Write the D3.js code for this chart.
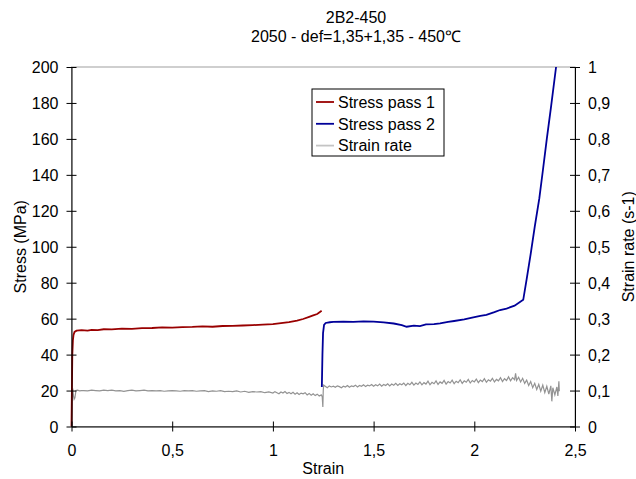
<!DOCTYPE html>
<html>
<head>
<meta charset="utf-8">
<script src="https://cdn.jsdelivr.net/npm/d3@7"></script>
<style>
  body { margin: 0; background: #fff; }
  svg { display: block; font-family: "Liberation Sans", Arial, sans-serif; }
  .axis path, .axis line { stroke: #000; }
  .axis text { font-size: 16px; fill: #000; font-family: "Liberation Sans", Arial, sans-serif; }
</style>
</head>
<body>
<svg id="chart" width="636" height="479"></svg>
<script>
const titleLines = ['2B2-450', '2050 - def=1,35+1,35 - 450\u2103']
const seriesNames = ['Stress pass 1', 'Stress pass 2', 'Strain rate']
const strainTicks = [0, 0.5, 1, 1.5, 2, 2.5]
const stressTicks = [0, 20, 40, 60, 80, 100, 120, 140, 160, 180, 200]
const rateTicks = [0, 0.1, 0.2, 0.3, 0.4, 0.5, 0.6, 0.7, 0.8, 0.9, 1]

// [strain, stress MPa]
const stressPass1 = [
  [0, 0], [0.002, 20], [0.004, 40], [0.007, 48], [0.01, 51], [0.015, 52.6], [0.025, 53.3],
  [0.05, 53.6], [0.08, 53.3], [0.1, 53.8], [0.13, 53.6], [0.16, 54.1], [0.2, 54.0],
  [0.25, 54.4], [0.3, 54.3], [0.35, 54.7], [0.4, 54.8], [0.45, 55.1], [0.5, 55.0],
  [0.55, 55.3], [0.6, 55.4], [0.65, 55.7], [0.7, 55.5], [0.75, 55.9], [0.8, 56.0],
  [0.85, 56.2], [0.9, 56.4], [0.95, 56.7], [1.0, 56.9], [1.04, 57.5], [1.08, 58.1],
  [1.12, 58.9], [1.15, 59.8], [1.18, 61.0], [1.2, 61.8], [1.22, 62.6], [1.242, 64.4]
]
const stressPass2 = [
  [1.243, 22], [1.246, 40], [1.249, 52], [1.254, 56.5], [1.262, 57.6], [1.283, 58.0],
  [1.3, 58.2], [1.35, 58.4], [1.4, 58.2], [1.45, 58.5], [1.5, 58.3], [1.55, 57.9],
  [1.6, 57.3], [1.64, 56.4], [1.664, 55.5], [1.7, 56.1], [1.73, 55.8], [1.76, 56.8],
  [1.8, 56.9], [1.83, 57.4], [1.87, 58.2], [1.9, 58.7], [1.95, 59.6], [1.995, 60.7],
  [2.03, 61.6], [2.06, 62.1], [2.1, 63.6], [2.128, 64.8], [2.16, 65.6], [2.2, 67.2],
  [2.243, 70.5], [2.26, 82], [2.28, 96], [2.3, 111], [2.323, 127], [2.34, 142],
  [2.36, 160], [2.38, 177], [2.406, 200]
]
// [strain, strain rate s-1]
const strainRate = [
  [0, 0], [0.002, 0.06], [0.004, 0.1], [0.007, 0.102], [0.01, 0.085], [0.013, 0.076],
  [0.017, 0.08], [0.022, 0.1], [0.03, 0.101], [0.04, 0.099], [0.05, 0.1],
  [0.06, 0.1], [0.08, 0.099], [0.1, 0.101], [0.12, 0.1], [0.14, 0.099], [0.16, 0.101],
  [0.18, 0.1], [0.2, 0.101], [0.22, 0.099], [0.24, 0.1], [0.26, 0.098], [0.28, 0.1],
  [0.3, 0.101], [0.32, 0.099], [0.34, 0.1], [0.36, 0.101], [0.38, 0.099], [0.4, 0.1],
  [0.42, 0.099], [0.44, 0.1], [0.46, 0.098], [0.48, 0.099], [0.5, 0.1], [0.52, 0.099],
  [0.54, 0.098], [0.56, 0.1], [0.58, 0.099], [0.6, 0.1], [0.62, 0.098], [0.64, 0.099],
  [0.66, 0.1], [0.68, 0.097], [0.7, 0.099], [0.72, 0.098], [0.74, 0.1], [0.76, 0.097],
  [0.78, 0.098], [0.8, 0.097], [0.82, 0.099], [0.84, 0.096], [0.86, 0.098], [0.88, 0.095],
  [0.9, 0.097], [0.92, 0.096], [0.94, 0.097], [0.96, 0.094], [0.98, 0.096], [1.0, 0.093],
  [1.01, 0.097], [1.02, 0.094], [1.03, 0.091], [1.04, 0.096], [1.05, 0.093], [1.06, 0.097],
  [1.07, 0.092], [1.08, 0.095], [1.09, 0.091], [1.1, 0.095], [1.11, 0.09], [1.12, 0.094],
  [1.13, 0.089], [1.14, 0.093], [1.15, 0.091], [1.16, 0.094], [1.17, 0.088], [1.18, 0.092],
  [1.19, 0.087], [1.2, 0.091], [1.21, 0.086], [1.22, 0.09], [1.23, 0.085], [1.24, 0.088],
  [1.245, 0.083], [1.248, 0.054], [1.25, 0.1], [1.252, 0.115],
  [1.26, 0.112], [1.27, 0.108], [1.28, 0.113], [1.29, 0.11], [1.3, 0.112], [1.31, 0.109],
  [1.32, 0.113], [1.33, 0.111], [1.34, 0.108], [1.35, 0.112], [1.36, 0.11], [1.37, 0.114],
  [1.38, 0.109], [1.39, 0.113], [1.4, 0.111], [1.41, 0.115], [1.42, 0.11], [1.43, 0.114],
  [1.44, 0.112], [1.45, 0.116], [1.46, 0.111], [1.47, 0.115], [1.48, 0.113], [1.49, 0.117],
  [1.5, 0.112], [1.51, 0.116], [1.52, 0.113], [1.53, 0.118], [1.54, 0.112], [1.55, 0.117],
  [1.56, 0.114], [1.57, 0.119], [1.58, 0.113], [1.59, 0.118], [1.6, 0.115], [1.61, 0.12],
  [1.62, 0.114], [1.63, 0.119], [1.64, 0.116], [1.65, 0.121], [1.66, 0.114], [1.67, 0.12],
  [1.68, 0.116], [1.69, 0.123], [1.7, 0.115], [1.71, 0.121], [1.72, 0.117], [1.73, 0.124],
  [1.74, 0.116], [1.75, 0.122], [1.76, 0.118], [1.77, 0.126], [1.78, 0.116], [1.79, 0.123],
  [1.8, 0.119], [1.81, 0.127], [1.82, 0.117], [1.83, 0.124], [1.84, 0.12], [1.85, 0.128],
  [1.86, 0.118], [1.87, 0.125], [1.88, 0.121], [1.89, 0.129], [1.9, 0.119], [1.91, 0.126],
  [1.92, 0.122], [1.93, 0.13], [1.94, 0.12], [1.95, 0.127], [1.96, 0.123], [1.97, 0.131],
  [1.98, 0.121], [1.99, 0.128], [2.0, 0.124], [2.01, 0.132], [2.02, 0.122], [2.03, 0.129],
  [2.04, 0.125], [2.05, 0.133], [2.06, 0.123], [2.07, 0.13], [2.08, 0.126], [2.09, 0.134],
  [2.1, 0.124], [2.11, 0.131], [2.12, 0.127], [2.13, 0.136], [2.14, 0.125], [2.15, 0.133],
  [2.16, 0.128], [2.17, 0.138], [2.18, 0.127], [2.19, 0.136], [2.2, 0.13], [2.205, 0.148],
  [2.21, 0.128], [2.22, 0.137], [2.23, 0.124], [2.24, 0.134], [2.25, 0.12], [2.26, 0.129],
  [2.27, 0.114], [2.28, 0.125], [2.29, 0.108], [2.3, 0.12], [2.31, 0.103], [2.32, 0.117],
  [2.33, 0.098], [2.34, 0.115], [2.35, 0.094], [2.36, 0.112], [2.37, 0.09], [2.38, 0.113],
  [2.385, 0.07], [2.39, 0.108], [2.4, 0.088], [2.41, 0.11], [2.415, 0.085], [2.42, 0.126],
  [2.422, 0.098]
]

const colors = ['#990000', '#000099', '#939393']

const PLOT = { left: 71.5, right: 575, top: 67, bottom: 426.5 }
const comma = d => String(d).replace('.', ',')

const svg = d3.select('#chart')

const x = d3.scaleLinear().domain([0, 2.5]).range([PLOT.left, PLOT.right])
const yStress = d3.scaleLinear().domain([0, 200]).range([PLOT.bottom, PLOT.top])
const yRate = d3.scaleLinear().domain([0, 1]).range([PLOT.bottom, PLOT.top])

// plot border (only the top edge stays visible)
svg.append('rect')
  .attr('x', PLOT.left).attr('y', PLOT.top)
  .attr('width', PLOT.right - PLOT.left).attr('height', PLOT.bottom - PLOT.top)
  .attr('fill', 'none').attr('stroke', '#a0a0a0').attr('stroke-width', 1)

// series
const stressLine = d3.line().x(d => x(d[0])).y(d => yStress(d[1]))
const rateLine = d3.line().x(d => x(d[0])).y(d => yRate(d[1]))

svg.append('path').datum(strainRate).attr('d', rateLine)
  .attr('fill', 'none').attr('stroke', colors[2]).attr('stroke-width', 1.2)
svg.append('path').datum(stressPass1).attr('d', stressLine)
  .attr('fill', 'none').attr('stroke', colors[0]).attr('stroke-width', 1.8)
svg.append('path').datum(stressPass2).attr('d', stressLine)
  .attr('fill', 'none').attr('stroke', colors[1]).attr('stroke-width', 1.8)

// axes, ticks crossing the axis line
const gx = svg.append('g').attr('class', 'axis')
  .attr('transform', `translate(0,${PLOT.bottom})`)
  .call(d3.axisBottom(x).tickValues(strainTicks).tickFormat(comma).tickSize(5).tickSizeOuter(0))
gx.selectAll('.tick line').attr('y1', -5)
gx.selectAll('.tick text').attr('dy', null).attr('y', 29)

const gy = svg.append('g').attr('class', 'axis')
  .attr('transform', `translate(${PLOT.left},0)`)
  .call(d3.axisLeft(yStress).tickValues(stressTicks).tickSize(5).tickSizeOuter(0))
gy.selectAll('.tick line').attr('x1', 5)
gy.selectAll('.tick text').attr('x', -13).attr('dy', '0.35em')

const gr = svg.append('g').attr('class', 'axis')
  .attr('transform', `translate(${PLOT.right},0)`)
  .call(d3.axisRight(yRate).tickValues(rateTicks).tickFormat(comma).tickSize(5).tickSizeOuter(0))
gr.selectAll('.tick line').attr('x1', -5)
gr.selectAll('.tick text').attr('x', 13).attr('dy', '0.35em')

// axis titles
svg.append('text').text('Strain')
  .attr('x', (PLOT.left + PLOT.right) / 2).attr('y', 474)
  .attr('text-anchor', 'middle').style('font-size', '16px')
svg.append('text').text('Stress (MPa)')
  .attr('transform', `translate(26,${(PLOT.top + PLOT.bottom) / 2}) rotate(-90)`)
  .attr('text-anchor', 'middle').style('font-size', '16px')
svg.append('text').text('Strain rate (s-1)')
  .attr('transform', `translate(634,${(PLOT.top + PLOT.bottom) / 2}) rotate(-90)`)
  .attr('text-anchor', 'middle').style('font-size', '16px')

// title
svg.append('g').selectAll('text').data(titleLines).join('text')
  .text(d => d)
  .attr('x', 356).attr('y', (d, i) => 23 + i * 19)
  .attr('text-anchor', 'middle').style('font-size', '16px')

// legend
const legend = svg.append('g').attr('transform', 'translate(312,89)')
legend.append('rect').attr('width', 132).attr('height', 67)
  .attr('fill', '#fff').attr('stroke', '#000').attr('stroke-width', 1)
const legendColors = [colors[0], colors[1], '#c4c4c4']
seriesNames.forEach((name, i) => {
  const cy = 13 + i * 21.8
  legend.append('line').attr('x1', 4).attr('x2', 22).attr('y1', cy).attr('y2', cy)
    .attr('stroke', legendColors[i]).attr('stroke-width', 1.8)
  legend.append('text').text(name).attr('x', 26).attr('y', cy + 5.8)
    .style('font-size', '16px')
})
</script>
</body>
</html>
